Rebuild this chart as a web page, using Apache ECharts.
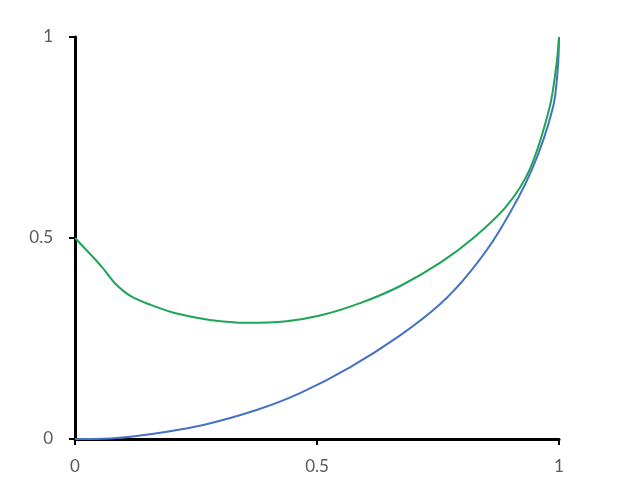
<!DOCTYPE html>
<html>
<head>
<meta charset="utf-8">
<script src="https://cdn.jsdelivr.net/npm/echarts@6/dist/echarts.min.js"></script>
<style>
  html, body { margin: 0; padding: 0; background: #fff; }
  #chart { width: 622px; height: 502px; }
</style>
</head>
<body>
<div id="chart"></div>
<script>
// values
var blueX = [0, 0.08, 0.155, 0.265, 0.375, 0.465, 0.568, 0.671, 0.754, 0.816, 0.878, 0.944, 0.988, 0.998, 1];
var blueY = [0, 0.002, 0.012, 0.035, 0.072, 0.114, 0.178, 0.257, 0.335, 0.415, 0.52, 0.67, 0.827, 0.93, 1];

var greenX = [0, 0.055, 0.083, 0.117, 0.158, 0.21, 0.279, 0.355, 0.437, 0.506, 0.589, 0.671, 0.754, 0.823, 0.892, 0.94, 0.981, 0.995, 1];
var greenY = [0.5, 0.429, 0.387, 0.354, 0.333, 0.312, 0.296, 0.289, 0.293, 0.307, 0.338, 0.38, 0.438, 0.5, 0.58, 0.672, 0.827, 0.934, 1];

var tickValues = [0, 0.5, 1];

function pairs(xs, ys) {
    var out = [];
    for (var i = 0; i < xs.length; i++) out.push([xs[i], ys[i]]);
    return out;
}

var chart = echarts.init(document.getElementById('chart'));

var axisCommon = {
    type: 'value',
    min: 0,
    max: 1,
    interval: 0.5,
    splitLine: { show: false },
    axisLine: { show: true, lineStyle: { color: '#000', width: 3 } },
    axisTick: { show: true, length: 6, lineStyle: { color: '#000', width: 2 } },
    axisLabel: {
        color: '#595959',
        fontSize: 17,
        fontFamily: 'Lato, sans-serif',
        formatter: function (v) { return tickValues.indexOf(v) >= 0 ? String(v) : ''; }
    }
};

chart.setOption({
    animation: false,
    backgroundColor: '#fff',
    grid: { left: 75, right: 63, top: 37, bottom: 63, containLabel: false },
    xAxis: Object.assign({}, axisCommon, {
        axisLabel: Object.assign({}, axisCommon.axisLabel, { margin: 19 })
    }),
    yAxis: Object.assign({}, axisCommon, {
        axisLabel: Object.assign({}, axisCommon.axisLabel, { margin: 22 })
    }),
    series: [
        {
            name: 'blue',
            type: 'line',
            data: pairs(blueX, blueY),
            showSymbol: false,
            smooth: 0.3,
            lineStyle: { color: '#4472C4', width: 2 },
            itemStyle: { color: '#4472C4' }
        },
        {
            name: 'green',
            type: 'line',
            data: pairs(greenX, greenY),
            showSymbol: false,
            smooth: 0.3,
            lineStyle: { color: '#1EA455', width: 2 },
            itemStyle: { color: '#1EA455' }
        }
    ]
});
</script>
</body>
</html>
